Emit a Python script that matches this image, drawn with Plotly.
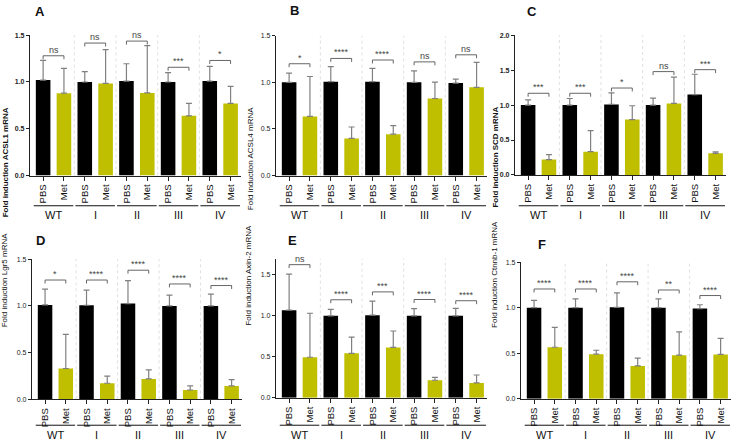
import plotly.graph_objects as go

W, H = 737, 442
groups = ["WT", "I", "II", "III", "IV"]
treatments = ["PBS", "Met"]
panel_letters = ["A", "B", "C", "D", "E", "F"]
titles = ["Fold induction ACSL1 mRNA", "Fold induction ACSL4 mRNA", "Fold induction SCD mRNA",
          "Fold induction Lgr5 mRNA", "Fold induction Axin-2 mRNA", "Fold induction Ctnnb-1 mRNA"]

# means and SD (upper error) per group
A_pbs = [1.02, 1.00, 1.01, 1.00, 1.01]
A_pbs_sd = [0.21, 0.11, 0.185, 0.10, 0.157]
A_met = [0.88, 0.985, 0.883, 0.638, 0.771]
A_met_sd = [0.266, 0.36, 0.505, 0.133, 0.182]
A_sig = ["ns", "ns", "ns", "***", "*"]
A_sig_h = [1.28, 1.416, 1.437, 1.157, 1.23]

B_pbs = [1.0, 1.007, 1.007, 1.0, 0.993]
B_pbs_sd = [0.10, 0.162, 0.143, 0.123, 0.042]
B_met = [0.634, 0.398, 0.444, 0.827, 0.947]
B_met_sd = [0.429, 0.123, 0.091, 0.176, 0.268]
B_sig = ["*", "****", "****", "ns", "ns"]
B_sig_h = [1.2, 1.257, 1.24, 1.22, 1.296]

C_pbs = [1.0, 1.0, 1.01, 1.0, 1.15]
C_pbs_sd = [0.075, 0.094, 0.164, 0.10, 0.291]
C_met = [0.22, 0.333, 0.793, 1.023, 0.31]
C_met_sd = [0.07, 0.301, 0.197, 0.377, 0.019]
C_sig = ["***", "***", "*", "ns", "***"]
C_sig_h = [1.169, 1.169, 1.244, 1.479, 1.507]

D_pbs = [1.01, 1.007, 1.025, 1.0, 1.0]
D_pbs_sd = [0.17, 0.161, 0.245, 0.116, 0.126]
D_met = [0.33, 0.172, 0.218, 0.10, 0.144]
D_met_sd = [0.365, 0.077, 0.098, 0.044, 0.066]
D_sig = ["*", "****", "****", "****", "****"]
D_sig_h = [1.277, 1.277, 1.382, 1.235, 1.218]

E_pbs = [1.07, 1.0, 1.008, 1.0, 1.0]
E_pbs_sd = [0.44, 0.08, 0.172, 0.088, 0.092]
E_met = [0.494, 0.542, 0.614, 0.213, 0.18]
E_met_sd = [0.538, 0.197, 0.201, 0.036, 0.097]
E_sig = ["ns", "****", "***", "****", "****"]
E_sig_h = [1.626, 1.197, 1.293, 1.20, 1.185]

F_pbs = [1.0, 1.0, 1.004, 1.0, 0.99]
F_pbs_sd = [0.079, 0.097, 0.158, 0.097, 0.042]
F_met = [0.565, 0.489, 0.36, 0.478, 0.486]
F_met_sd = [0.219, 0.043, 0.086, 0.256, 0.176]
F_sig = ["****", "****", "****", "**", "****"]
F_sig_h = [1.205, 1.205, 1.284, 1.194, 1.133]

y_max = [1.5, 1.5, 2.0, 1.5, 1.7, 1.5]
y_ticks = [[0, 0.5, 1.0, 1.5], [0, 0.5, 1.0, 1.5], [0, 0.5, 1.0, 1.5, 2.0],
           [0, 0.5, 1.0, 1.5], [0, 0.5, 1.0, 1.5], [0, 0.5, 1.0, 1.5]]
bold_panel = [True, False, True, False, False, False]

data = [
    (A_pbs, A_pbs_sd, A_met, A_met_sd, A_sig, A_sig_h),
    (B_pbs, B_pbs_sd, B_met, B_met_sd, B_sig, B_sig_h),
    (C_pbs, C_pbs_sd, C_met, C_met_sd, C_sig, C_sig_h),
    (D_pbs, D_pbs_sd, D_met, D_met_sd, D_sig, D_sig_h),
    (E_pbs, E_pbs_sd, E_met, E_met_sd, E_sig, E_sig_h),
    (F_pbs, F_pbs_sd, F_met, F_met_sd, F_sig, F_sig_h),
]

# layout (pixel) boxes: x0, x1, ytop, ybottom
boxes = [(30, 241, 31.7, 174.3), (276, 487, 32.3, 174.3), (515, 726, 31.7, 173.7),
         (32, 242, 259.3, 401.7), (276, 487, 258.7, 400), (521, 731, 262.3, 401)]
letter_pos = [(40, 8), (294, 7), (532, 8), (40, 240), (292, 240), (542, 244)]
title_x = [5, 250, 496, 4, 249, 495]
underline_y = [205, 205, 205, 428, 428, 428]

FONT = "Liberation Sans, Arial, sans-serif"
BLACK = "#000000"
YELLOW = "#bfbf00"
GREY = "#808080"
XR = [-0.63, 9.5]

def fx(px): return px / W
def fy(py): return 1 - py / H

fig = go.Figure()
layout = dict(width=W, height=H, margin=dict(l=0, r=0, t=0, b=0),
              plot_bgcolor="white", paper_bgcolor="white", showlegend=False,
              bargap=0.3, font=dict(family=FONT))
shapes, annotations = [], []

tick_pos = list(range(10))
tick_text = [treatments[i % 2] for i in range(10)]

for p in range(6):
    pbs, pbs_sd, met, met_sd, sig, sig_h = data[p]
    xa = "x" if p == 0 else f"x{p+1}"
    ya = "y" if p == 0 else f"y{p+1}"
    xkey = "xaxis" if p == 0 else f"xaxis{p+1}"
    ykey = "yaxis" if p == 0 else f"yaxis{p+1}"
    x0, x1, yt, yb = boxes[p]
    wt = "bold" if bold_panel[p] else "normal"
    pbs_x = [2 * g for g in range(len(groups))]
    met_x = [2 * g + 1 for g in range(len(groups))]
    fig.add_trace(go.Bar(x=pbs_x, y=pbs, width=0.7, marker=dict(color=BLACK, line=dict(width=0)),
                         error_y=dict(type="data", symmetric=False, array=pbs_sd,
                                      arrayminus=[0] * 5, color=GREY, thickness=1.2, width=3),
                         xaxis=xa, yaxis=ya))
    fig.add_trace(go.Bar(x=met_x, y=met, width=0.7, marker=dict(color=YELLOW, line=dict(width=0)),
                         error_y=dict(type="data", symmetric=False, array=met_sd,
                                      arrayminus=[0] * 5, color=GREY, thickness=1.2, width=3),
                         xaxis=xa, yaxis=ya))
    layout[xkey] = dict(domain=[fx(x0), fx(x1)], range=XR, anchor=ya, tickmode="array",
                        tickvals=tick_pos, ticktext=tick_text, tickangle=-90,
                        ticks="outside", ticklen=4, tickwidth=1, tickcolor="#222",
                        showline=True, linecolor="#222", linewidth=1.2, showgrid=False,
                        zeroline=False, tickfont=dict(size=9.5, color="#111", family=FONT))
    layout[ykey] = dict(domain=[fy(yb), fy(yt)], range=[0, y_max[p]], anchor=xa,
                        tickmode="array", tickvals=y_ticks[p],
                        ticktext=[f"{v:.1f}" for v in y_ticks[p]],
                        ticks="outside", ticklen=3, tickwidth=1, tickcolor="#222",
                        showline=True, linecolor="#222", linewidth=1.2, showgrid=False,
                        zeroline=False, tickfont=dict(size=7, color="#222", family=FONT, weight=wt))
    # dotted separators
    for g in range(len(groups) - 1):
        shapes.append(dict(type="line", xref=xa, yref=f"{ya} domain", x0=2 * g + 1.5, x1=2 * g + 1.5,
                           y0=0, y1=1, line=dict(color="#d2d2d2", width=0.7, dash="dot"), layer="below"))
    # brackets
    dpx = 3.5 * y_max[p] / (yb - yt)
    for g in range(len(groups)):
        h = sig_h[g]
        xa0, xa1 = 2 * g, 2 * g + 1
        shapes.append(dict(type="path", xref=xa, yref=ya,
                           path=f"M {xa0},{h - dpx} L {xa0},{h} L {xa1},{h} L {xa1},{h - dpx}",
                           line=dict(color="#555", width=0.9)))
        annotations.append(dict(xref=xa, yref=ya, x=2 * g + 0.5, y=h, text=sig[g], showarrow=False,
                                yanchor="bottom", yshift=-1,
                                font=dict(size=9, color="#444", family=FONT)))
        # group underline and label
        shapes.append(dict(type="line", xref=xa, yref="paper", x0=2 * g - 0.45, x1=2 * g + 1.45,
                           y0=fy(underline_y[p]), y1=fy(underline_y[p]),
                           line=dict(color="#111", width=1)))
        annotations.append(dict(xref=xa, yref="paper", x=2 * g + 0.5, y=fy(underline_y[p] + 1.5),
                                text=groups[g], showarrow=False, yanchor="top",
                                font=dict(size=11, color="#111", family=FONT)))
    # y title
    annotations.append(dict(xref="paper", yref="paper", x=fx(title_x[p]), y=fy((yt + yb) / 2),
                            text=titles[p], textangle=-90, showarrow=False, xanchor="center",
                            font=dict(size=8, color="#111", family=FONT, weight=wt)))
    # panel letter
    lx, ly = letter_pos[p]
    annotations.append(dict(xref="paper", yref="paper", x=fx(lx), y=fy(ly), text=panel_letters[p],
                            showarrow=False, xanchor="center", yanchor="middle",
                            font=dict(size=13, color="#111", family=FONT, weight="bold")))

layout["shapes"] = shapes
layout["annotations"] = annotations
fig.update_layout(**layout)
fig.write_html("out.html", config={"displayModeBar": False},
               post_script="document.body.style.margin='0px';document.body.style.padding='0px';"
                           "document.body.style.overflow='hidden';")
